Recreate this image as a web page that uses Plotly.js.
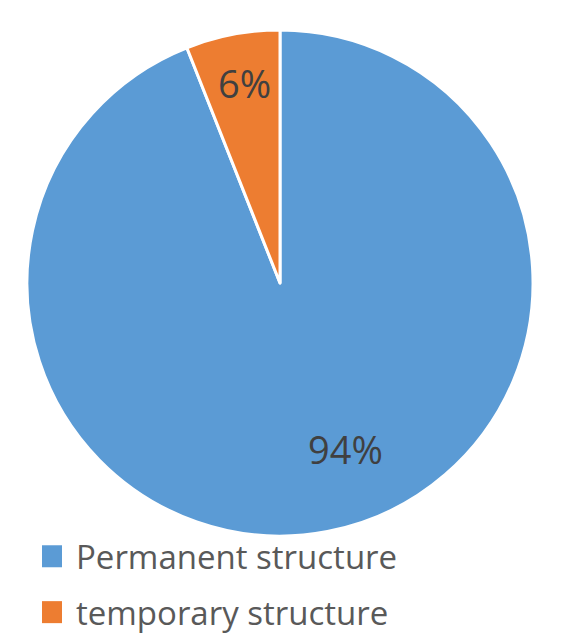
<!DOCTYPE html>
<html><head><meta charset="utf-8">
<script src="https://cdn.plot.ly/plotly-3.0.1.min.js"></script>
<style>html,body{margin:0;padding:0;background:#fff}</style>
</head><body><div id="chart" style="width:579px;height:635px"></div>
<script>
const categories = ["Permanent structure", "temporary structure"];
const values = [94, 6];
const colors = ["#5B9BD5", "#ED7D31"];
const labelPos = [[0.596, 0.293], [0.423, 0.869]];
const legendRowY = [0.124, 0.036];

const total = values.reduce((a, b) => a + b, 0);
const annotations = values.map((v, i) => ({
  text: Math.round(v / total * 100) + "%",
  x: labelPos[i][0], y: labelPos[i][1], xref: "paper", yref: "paper",
  xanchor: "center", yanchor: "middle",
  showarrow: false, font: {family: "Open Sans", size: 38, color: "#404040"}
}));
const shapes = [];
categories.forEach((c, i) => {
  annotations.push({
    text: c, x: 74 / 579, y: legendRowY[i], xref: "paper", yref: "paper",
    xanchor: "left", yanchor: "middle", showarrow: false,
    font: {family: "Open Sans", size: 33, color: "#595959"}
  });
  shapes.push({
    type: "rect", xref: "paper", yref: "paper",
    x0: 42 / 579, x1: 62 / 579,
    y0: legendRowY[i] - 11 / 635, y1: legendRowY[i] + 11 / 635,
    fillcolor: colors[i], line: {width: 0}
  });
});

Plotly.newPlot("chart", [{
  type: "pie", labels: categories, values: values, sort: false,
  direction: "clockwise", rotation: 0, textinfo: "none", hoverinfo: "none",
  marker: {colors: colors, line: {color: "#ffffff", width: 3}},
  domain: {x: [0.0466, 0.9206], y: [0.1559, 0.9528]}
}], {
  width: 579, height: 635, margin: {l: 0, r: 0, t: 0, b: 0},
  paper_bgcolor: "#fff", showlegend: false,
  annotations: annotations, shapes: shapes
}, {displayModeBar: false, staticPlot: true});
</script></body></html>
